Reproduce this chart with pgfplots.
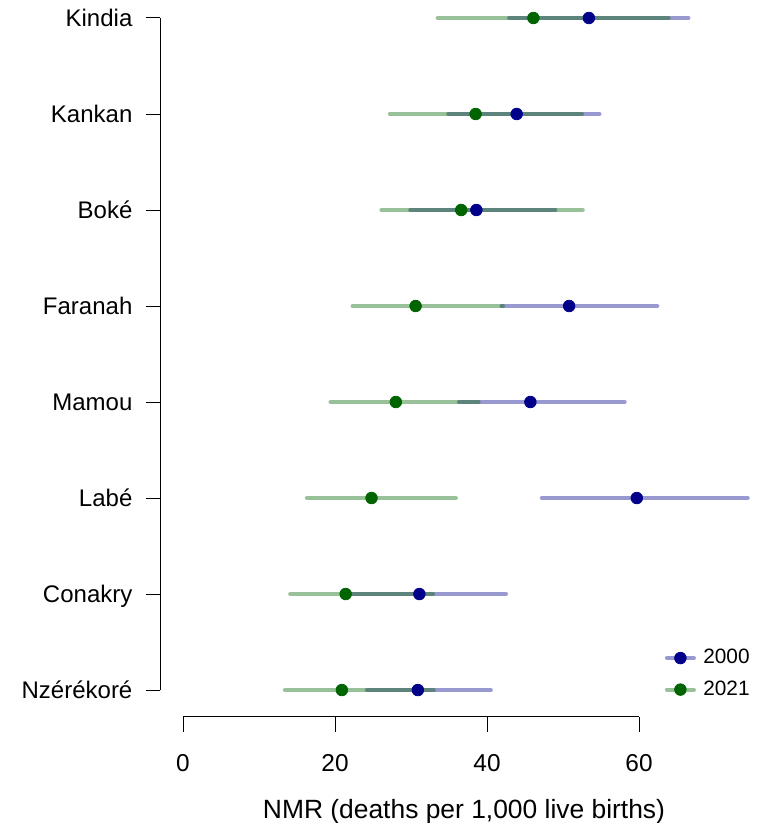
\documentclass[border=0pt]{standalone}
\usepackage{pgfplots}
\pgfplotsset{compat=1.18}
\usepackage{pgfplotstable}
\usepackage{fontspec}
\setmainfont{Liberation Sans}
\definecolor{cnavy}{RGB}{0,0,139}
\definecolor{cgreen}{RGB}{0,100,0}

% 2000
\pgfplotstableread{
y lo pt hi
8 42.9 53.4 66.5
7 34.9 43.9 54.8
6 29.9 38.6 49.0
5 41.9 50.8 62.4
4 36.3 45.7 58.1
3 47.2 59.7 74.3
2 22.2 31.1 42.5
1 24.2 30.9 40.5
}\tblA
% 2021
\pgfplotstableread{
y lo pt hi
8 33.5 46.1 63.9
7 27.2 38.5 52.5
6 26.1 36.6 52.6
5 22.3 30.6 42.1
4 19.4 28.0 38.9
3 16.3 24.8 35.9
2 14.1 21.4 32.9
1 13.4 20.9 33.0
}\tblB

\begin{document}
\begin{tikzpicture}
\begin{axis}[
  x=3.8pt, y=48pt,
  xmin=-2.98, xmax=76.05, ymin=0.72, ymax=8.1875,
  clip=false,
  axis line style={draw=none},
  tick align=outside,
  major tick length=7.3pt,
  tick style={black, line width=0.5pt},
  xtick={0,20,40,60}, xticklabels={0,20,40,60},
  xtick pos=bottom, ytick pos=left,
  ytick={1,2,3,4,5,6,7,8},
  yticklabels={Nzérékoré,Conakry,Labé,Mamou,Faranah,Boké,Kankan,Kindia},
  yticklabel style={font=\fontsize{12}{14}\selectfont, anchor=east, inner sep=0pt, xshift=-6.5pt, text height=8.6pt, text depth=0pt},
  xticklabel style={font=\fontsize{12.2}{14}\selectfont, anchor=north, inner sep=0pt, yshift=-11.5pt},
  xlabel={NMR (deaths per 1,000 live births)},
  xlabel style={at={(axis cs:36.97,-0.198)}, anchor=center, yshift=-3.5pt, font=\fontsize{13.2}{15}\selectfont},
  legend style={draw=none, fill=none, at={(axis cs:63.35,1.47)}, anchor=north west,
    font=\fontsize{10.4}{12}\selectfont, inner sep=0pt, row sep=3pt},
  legend cell align=left,
]
% intervals
\addplot[only marks, mark=none, forget plot,
  error bars/.cd, x dir=both, x explicit, error mark=none,
  error bar style={line width=2pt, draw=cnavy, draw opacity=0.4, line cap=round}]
  table[x=pt, y=y, x error plus expr=\thisrow{hi}-\thisrow{pt}, x error minus expr=\thisrow{pt}-\thisrow{lo}] {\tblA};
\addplot[only marks, mark=none, forget plot,
  error bars/.cd, x dir=both, x explicit, error mark=none,
  error bar style={line width=2pt, draw=cgreen, draw opacity=0.4, line cap=round}]
  table[x=pt, y=y, x error plus expr=\thisrow{hi}-\thisrow{pt}, x error minus expr=\thisrow{pt}-\thisrow{lo}] {\tblB};
% points
\addplot[only marks, mark=*, mark size=2.9pt, cnavy, mark options={draw=cnavy, fill=cnavy}, forget plot]
  table[x=pt, y=y] {\tblA};
\addplot[only marks, mark=*, mark size=2.9pt, cgreen, mark options={draw=cgreen, fill=cgreen}, forget plot]
  table[x=pt, y=y] {\tblB};
% legend
\addlegendimage{legend image code/.code={
  \draw[cnavy, draw opacity=0.4, line width=2pt, line cap=round] (0pt,0pt) -- (13.5pt,0pt);
  \fill[cnavy] (6.75pt,0pt) circle (2.9pt);
  \path (16pt,0pt);}}
\addlegendentry{2000}
\addlegendimage{legend image code/.code={
  \draw[cgreen, draw opacity=0.4, line width=2pt, line cap=round] (0pt,0pt) -- (13.5pt,0pt);
  \fill[cgreen] (6.75pt,0pt) circle (2.9pt);
  \path (16pt,0pt);}}
\addlegendentry{2021}
% axis lines (R style)
\draw[black, line width=0.5pt] (axis cs:-2.98,1) -- (axis cs:-2.98,8);
\draw[black, line width=0.5pt] (axis cs:0,0.72) -- (axis cs:60,0.72);
\coordinate (bbsw) at (axis cs:-24.08,-0.385);
\coordinate (bbne) at (axis cs:76.05,8.1875);
\end{axis}
\pgfresetboundingbox
\useasboundingbox (bbsw) rectangle (bbne);
\end{tikzpicture}
\end{document}
